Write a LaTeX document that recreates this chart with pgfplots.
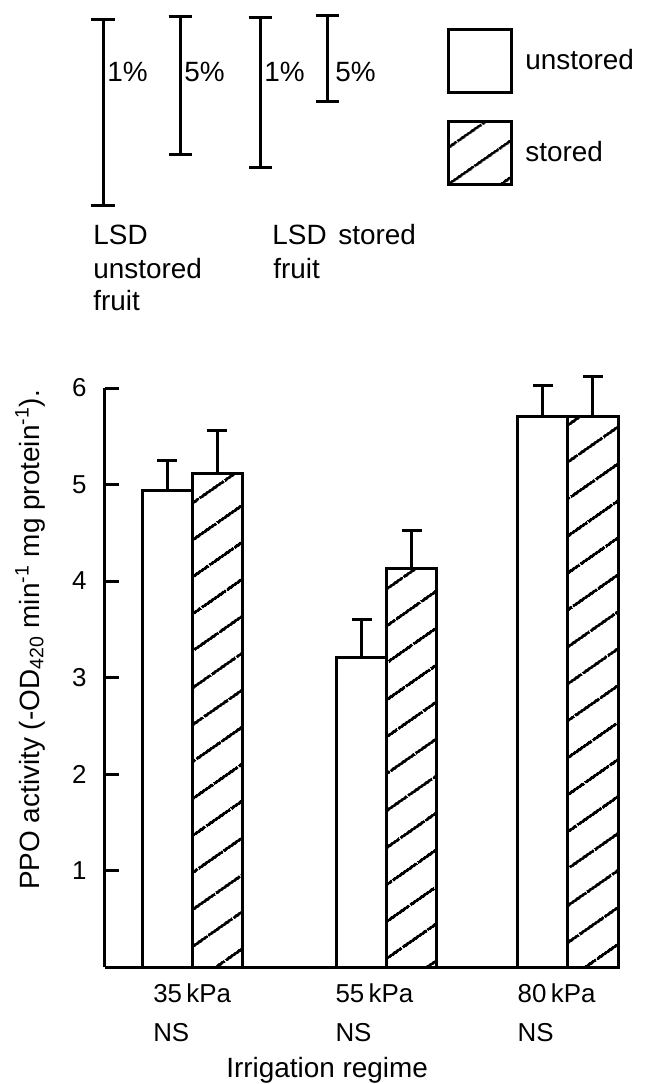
\documentclass[border=0pt]{standalone}
\usepackage{fontspec}
\setmainfont{Liberation Sans}
\usepackage{pgfplots}
\pgfplotsset{compat=1.18}
\usetikzlibrary{patterns.meta}
\pgfplotsset{sq legend/.style={legend image code/.code={\draw[##1] (0bp,-15.75bp) rectangle (31.5bp,15.75bp);}}}
\begin{document}
\fontsize{14}{16}\selectfont
\begin{tikzpicture}
\useasboundingbox (-52.5bp,-58.5bp) rectangle (270bp,483.5bp);
\begin{axis}[
  at={(0,0)}, anchor=south west,
  scale only axis, width=256.5bp, height=289.5bp,
  xmin=-0.464, xmax=2.2667, ymin=0, ymax=6,
  axis x line*=bottom, axis y line*=left,
  axis line style={-, line width=1.5bp, black},
  ytick={1,2,3,4,5,6},
  xtick={0,0.97,1.94},
  xticklabels={35\,kPa\\NS, 55\,kPa\\NS, 80\,kPa\\NS},
  xticklabel style={align=left, inner sep=0pt, anchor=north, yshift=-1bp, font=\fontsize{13}{19.5}\selectfont},
  x tick style={draw=none},
  y tick style={line width=1.5bp, black},
  tick align=inside, major tick length=7bp,
  yticklabel style={anchor=east, inner sep=0pt, xshift=-9bp, font=\fontsize{13}{15}\selectfont},
  /pgf/number format/assume math mode=true,
  xlabel={Irrigation regime},
  xlabel style={at={(axis description cs:0.433,-0.1905)}, anchor=base},
  ylabel={PPO activity (-OD\textsubscript{420} min\textsuperscript{-1} mg protein\textsuperscript{-1}).},
  ylabel style={at={(axis description cs:-0.146,0.565)}, anchor=center},
  ybar, bar width=0.2667,
  legend style={at={(axis description cs:0.6667,1.6218)}, anchor=north west, draw=none, fill=none, inner sep=0pt, row sep=13bp, column sep=6bp, nodes={inner sep=0pt, anchor=west}},
  legend cell align=left,
  clip=false,
]
\addplot[fill=white, draw=black, line width=1.5bp, bar shift=-0.13333, sq legend,
  error bars/.cd, y dir=plus, y explicit,
  error bar style={line width=1.5bp, black},
  error mark options={rotate=90, mark size=5bp, line width=1.5bp, black}]
  coordinates {(0,4.94) +- (0,0.31) (1.035,3.21) +- (0,0.39) (2,5.70) +- (0,0.33)};
\addplot[pattern={Lines[angle=35, distance=15bp, line width=1.5bp]}, pattern color=black, draw=black, line width=1.5bp, bar shift=0.13333, sq legend,
  error bars/.cd, y dir=plus, y explicit,
  error bar style={line width=1.5bp, black},
  error mark options={rotate=90, mark size=5bp, line width=1.5bp, black}]
  coordinates {(0,5.11) +- (0,0.45) (1.035,4.13) +- (0,0.39) (2,5.70) +- (0,0.42)};
\legend{unstored, stored}
\end{axis}
\begin{axis}[
  at={(-52.5bp,337.75bp)}, anchor=south west,
  scale only axis, width=322.5bp, height=144.75bp,
  xmin=0, xmax=645, ymin=7, ymax=10,
  hide axis, clip=false,
]
\addplot[black, only marks, mark=none, mark size=0pt,
  error bars/.cd, y dir=both, y explicit,
  error bar style={line width=1.5bp, black},
  error mark options={rotate=90, mark size=5.75bp, line width=1.5bp, black}]
  coordinates {(103,8.85) +- (0,0.964) (180,9.13) +- (0,0.715) (260,9.067) +- (0,0.777) (327,9.415) +- (0,0.45)};
\node[anchor=west, inner sep=0pt] at (axis cs:107,9.275) {1\%};
\node[anchor=west, inner sep=0pt] at (axis cs:184,9.275) {5\%};
\node[anchor=west, inner sep=0pt] at (axis cs:264,9.275) {1\%};
\node[anchor=west, inner sep=0pt] at (axis cs:335,9.275) {5\%};
\node[anchor=base west, inner sep=0pt] at (axis cs:93,7.482) {LSD};
\node[anchor=base west, inner sep=0pt] at (axis cs:93,7.130) {unstored};
\node[anchor=base west, inner sep=0pt] at (axis cs:93,6.808) {fruit};
\node[anchor=base west, inner sep=0pt] at (axis cs:272,7.482) {LSD\hspace{2bp} stored};
\node[anchor=base west, inner sep=0pt] at (axis cs:273,7.130) {fruit};
\end{axis}
\end{tikzpicture}
\end{document}
